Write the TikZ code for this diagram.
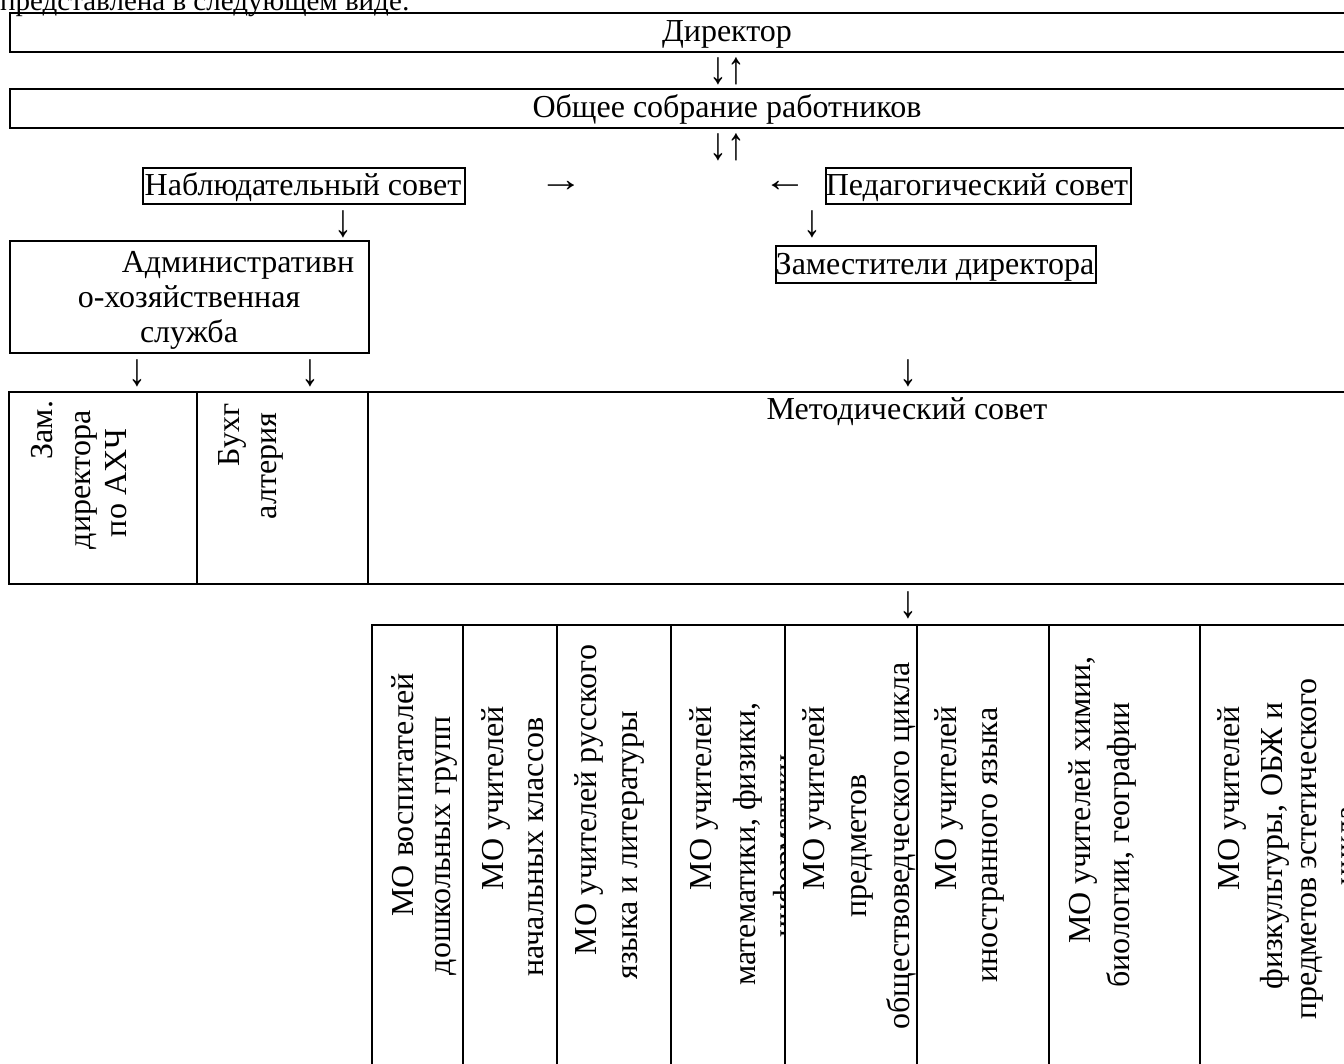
\documentclass[tikz,border=0pt]{standalone}
\usepackage{fontspec}
\setmainfont{Liberation Serif}
\newcommand{\tallarrow}[1]{\scalebox{1.05}[1.35]{#1}}
\newcommand{\widearrow}[1]{\scalebox{1.3}[1.05]{#1}}
\begin{document}
\begin{tikzpicture}[x=1pt,y=-1pt,
  every node/.style={font=\fontsize{32}{37}\selectfont, inner sep=0pt},
  frame/.style={draw, line width=1.6pt},
  txt/.style={anchor=base},
  vtxt/.style={rotate=90, anchor=center},
  glyph/.style={anchor=center, font=\fontsize{34}{40}\selectfont}]
\useasboundingbox (0,0) rectangle (1344,1064);
% cut heading line
\node[txt, anchor=base west, font=\fontsize{29}{34}\selectfont] (head) at (0,11) {представлена в следующем виде:};
% Director and general meeting bands
\node[frame, anchor=north west, minimum width=1400, minimum height=39] (dir) at (9,12) {};
\node[txt] (dirt) at (727,42) {Директор};
\node[glyph] (a1) at (727,71) {\tallarrow{↓↑}};
\node[frame, anchor=north west, minimum width=1400, minimum height=39] (obs) at (9,88) {};
\node[txt] (obst) at (727,118) {Общее собрание работников};
\node[glyph] (a2) at (727,147) {\tallarrow{↓↑}};
% councils
\node[frame, anchor=north west, minimum width=322, minimum height=36] (nab) at (142,167) {};
\node[txt] (nabt) at (303,196) {Наблюдательный совет};
\node[glyph] (a3) at (561,186) {\widearrow{→}};
\node[glyph] (a4) at (785,186) {\widearrow{←}};
\node[frame, anchor=north west, minimum width=305, minimum height=36] (ped) at (825,167) {};
\node[txt] (pedt) at (977,196) {Педагогический совет};
\node[glyph] (a5) at (343,224) {\tallarrow{↓}};
\node[glyph] (a6) at (812,224) {\tallarrow{↓}};
% administrative service
\node[frame, anchor=north west, minimum width=359, minimum height=112] (adm) at (9,240) {};
\node[txt] (adm1) at (238,273) {Административн};
\node[txt] (adm2) at (189,308) {о-хозяйственная};
\node[txt] (adm3) at (189,343) {служба};
\node[frame, anchor=north west, minimum width=320, minimum height=37] (zam) at (775,245) {};
\node[txt] (zamt) at (935,275) {Заместители директора};
\node[glyph] (a7) at (137,373) {\tallarrow{↓}};
\node[glyph] (a8) at (310,373) {\tallarrow{↓}};
\node[glyph] (a9) at (908,373) {\tallarrow{↓}};
% second row table
\draw[line width=1.6pt] (1360,392) -- (9,392) -- (9,584) -- (1360,584);
\draw[line width=1.6pt] (197,392) -- (197,584) (368,392) -- (368,584);
\node[vtxt] (z1) at (42,430) {Зам.};
\node[vtxt] (z2) at (86,480) {директора};
\node[vtxt] (z3) at (116,483) {по АХЧ};
\node[vtxt] (b1) at (232,435) {Бухг};
\node[vtxt] (b2) at (272,466) {алтерия};
\node[txt] (met) at (907,420) {Методический совет};
\node[glyph] (a10) at (908,605) {\tallarrow{↓}};
% third row table
\draw[line width=1.6pt] (1360,625) -- (372,625) -- (372,1070);
\foreach \xx in {463,557,671,785,917,1049,1200}
  \draw[line width=1.6pt] (\xx,625) -- (\xx,1070);
\node[vtxt] (c1a) at (403,795) {МО воспитателей};
\node[vtxt] (c1b) at (446,846) {дошкольных групп};
\node[vtxt] (c2a) at (496,798) {МО учителей};
\node[vtxt] (c2b) at (536,847) {начальных классов};
\node[vtxt] (c3a) at (589,800) {МО учителей русского};
\node[vtxt] (c3b) at (633,845) {языка и литературы};
\node[vtxt] (c4a) at (704,798) {МО учителей};
\node[vtxt] (c4b) at (748,844) {математики, физики,};
\begin{scope}
  \clip (671,625) rectangle (784,1064);
  \node[vtxt] (c4c) at (788,846) {информатики};
\end{scope}
\node[vtxt] (c5a) at (817,798) {МО учителей};
\node[vtxt] (c5b) at (862,846) {предметов};
\node[vtxt] (c5c) at (901,846) {обществоведческого цикла};
\node[vtxt] (c6a) at (949,798) {МО учителей};
\node[vtxt] (c6b) at (993,845) {иностранного языка};
\node[vtxt] (c7a) at (1083,800) {МО учителей химии,};
\node[vtxt] (c7b) at (1121,845) {биологии, географии};
\node[vtxt] (c8a) at (1232,798) {МО учителей};
\node[vtxt] (c8b) at (1275,846) {физкультуры, ОБЖ и};
\node[vtxt] (c8c) at (1312,849) {предметов эстетического};
\node[vtxt] (c8d) at (1352,846) {цикла};
\end{tikzpicture}
\end{document}
